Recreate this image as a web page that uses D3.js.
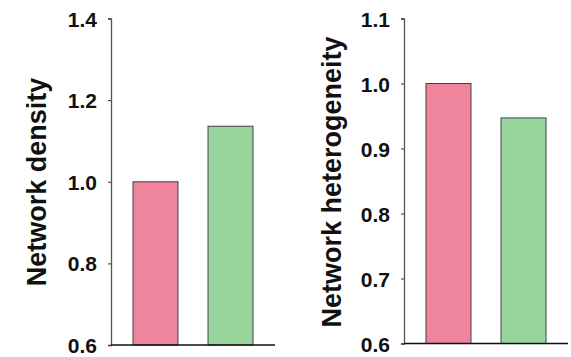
<!DOCTYPE html>
<html><head><meta charset="utf-8">
<script src="https://cdn.jsdelivr.net/npm/d3@7"></script>
<style>body{margin:0;background:#fff}svg{display:block}</style>
</head><body>
<svg id="c" width="571" height="357"></svg>
<script>
const groups = ["A", "B"];
const densityValues = [1.0, 1.136];
const heterogeneityValues = [1.0, 0.947];
const densityTicks = [0.6, 0.8, 1.0, 1.2, 1.4];
const heterogeneityTicks = [0.6, 0.7, 0.8, 0.9, 1.0, 1.1];
const barColors = ["#ef859c", "#98d59c"];

const svg = d3.select("#c");
const font = "Liberation Sans, Arial, sans-serif";

function panel(cfg) {
  const y = d3.scaleLinear().domain(cfg.domain).range([cfg.bottom, cfg.top]);
  const x = d3.scaleBand().domain(groups).range([cfg.x0, cfg.x1]).paddingInner(0.4).paddingOuter(0.293);
  const g = svg.append("g");
  g.selectAll("rect").data(cfg.values).join("rect")
    .attr("x", (d, i) => x(groups[i]))
    .attr("y", d => y(d))
    .attr("width", x.bandwidth())
    .attr("height", d => y(cfg.domain[0]) - y(d))
    .attr("fill", (d, i) => barColors[i])
    .attr("stroke", "#444")
    .attr("stroke-width", 1);
  const ax = g.append("g").attr("transform", `translate(${cfg.x0},0)`)
    .call(d3.axisLeft(y).tickValues(cfg.ticks).tickFormat(d3.format(".1f")).tickSizeOuter(0).tickSize(3).tickPadding(11));
  ax.select(".domain").attr("stroke", "#555").attr("stroke-width", 1.3);
  ax.selectAll(".tick line").attr("stroke", "#333");
  ax.selectAll("text").attr("font-family", font).attr("font-weight", "bold").attr("font-size", 21).attr("fill", "#111").attr("dy", "0.36em");
  g.append("line").attr("x1", cfg.x0).attr("x2", cfg.x1).attr("y1", cfg.bottom).attr("y2", cfg.bottom).attr("stroke", "#111").attr("stroke-width", 1.3);
  g.append("text").attr("transform", `translate(${cfg.tx},182) rotate(-90)`)
    .attr("text-anchor", "middle").attr("font-family", font).attr("font-weight", "bold").attr("font-size", 27).attr("fill", "#111")
    .text(cfg.title);
}

panel({domain: [0.6, 1.4], ticks: densityTicks, values: densityValues, top: 18.5, bottom: 345, x0: 111, x1: 275, tx: 46, title: "Network density"});
panel({domain: [0.6, 1.1], ticks: heterogeneityTicks, values: heterogeneityValues, top: 18.5, bottom: 343.5, x0: 404, x1: 568, tx: 341, title: "Network heterogeneity"});
</script>
</body></html>
